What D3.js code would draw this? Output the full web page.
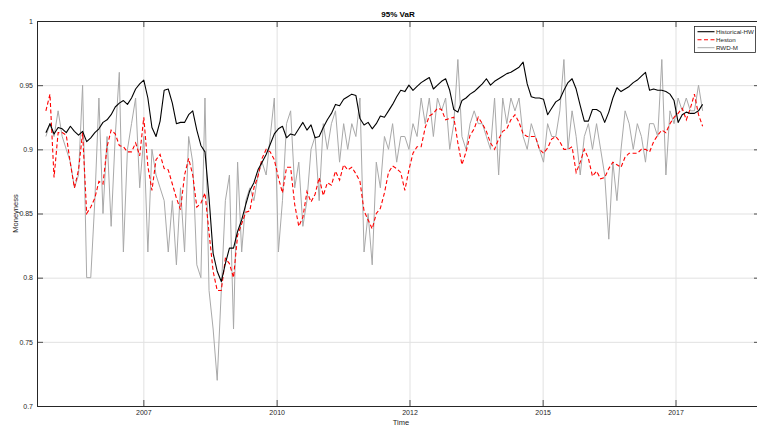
<!DOCTYPE html>
<html>
<head>
<meta charset="utf-8">
<script src="https://cdn.jsdelivr.net/npm/d3@7"></script>
<style>
  html, body { margin: 0; padding: 0; background: #ffffff; overflow: hidden; }
  svg { display: block; font-family: "Liberation Sans", Arial, Helvetica, sans-serif; }
</style>
</head>
<body>
<svg id="chart" width="757" height="428"></svg>
<script>
// Observation grid: one value every 28 days from the first date
const firstDate = "2005-08-31";
const stepDays = 28;

// Historical-HW moneyness
const historicalHW = [
  0.913, 0.920, 0.912, 0.917, 0.916, 0.913, 0.918, 0.914, 0.911, 0.914,
  0.906, 0.909, 0.913, 0.916, 0.921, 0.923, 0.927, 0.933, 0.936, 0.938,
  0.935, 0.940, 0.947, 0.951, 0.954, 0.940, 0.917, 0.910, 0.922, 0.946,
  0.947, 0.936, 0.920, 0.921, 0.921, 0.927, 0.930, 0.915, 0.903, 0.898,
  0.862, 0.819, 0.805, 0.797, 0.811, 0.823, 0.823, 0.836, 0.845, 0.857,
  0.868, 0.874, 0.884, 0.890, 0.896, 0.904, 0.912, 0.916, 0.918, 0.909,
  0.912, 0.911, 0.916, 0.921, 0.915, 0.919, 0.909, 0.910, 0.917, 0.923,
  0.928, 0.935, 0.934, 0.939, 0.941, 0.943, 0.942, 0.924, 0.919, 0.921,
  0.916, 0.920, 0.926, 0.925, 0.930, 0.935, 0.941, 0.946, 0.945, 0.950,
  0.946, 0.949, 0.952, 0.954, 0.956, 0.947, 0.950, 0.953, 0.955, 0.946,
  0.931, 0.929, 0.938, 0.940, 0.943, 0.945, 0.948, 0.951, 0.955, 0.950,
  0.953, 0.955, 0.957, 0.959, 0.960, 0.962, 0.964, 0.968, 0.951, 0.941,
  0.940, 0.940, 0.939, 0.927, 0.932, 0.937, 0.939, 0.946, 0.952, 0.955,
  0.947, 0.934, 0.922, 0.922, 0.931, 0.931, 0.929, 0.921, 0.929, 0.940,
  0.948, 0.945, 0.947, 0.949, 0.952, 0.954, 0.957, 0.960, 0.946, 0.947,
  0.946, 0.946, 0.945, 0.943, 0.938, 0.921, 0.927, 0.929, 0.928, 0.928,
  0.930, 0.935
];

// Heston moneyness
const heston = [
  0.930, 0.943, 0.878, 0.913, 0.913, 0.911, 0.889, 0.870, 0.884, 0.913,
  0.850, 0.855, 0.862, 0.875, 0.873, 0.902, 0.915, 0.912, 0.903, 0.902,
  0.898, 0.898, 0.905, 0.895, 0.925, 0.887, 0.868, 0.892, 0.896, 0.885,
  0.884, 0.873, 0.862, 0.853, 0.880, 0.893, 0.880, 0.855, 0.858, 0.866,
  0.835, 0.805, 0.790, 0.790, 0.815, 0.811, 0.800, 0.833, 0.842, 0.851,
  0.852, 0.870, 0.879, 0.893, 0.900, 0.898, 0.892, 0.878, 0.866, 0.886,
  0.886, 0.857, 0.840, 0.847, 0.867, 0.859, 0.865, 0.878, 0.864, 0.874,
  0.872, 0.883, 0.876, 0.888, 0.884, 0.886, 0.881, 0.875, 0.852, 0.845,
  0.838, 0.850, 0.854, 0.866, 0.882, 0.887, 0.885, 0.882, 0.868, 0.884,
  0.897, 0.902, 0.902, 0.917, 0.926, 0.928, 0.932, 0.931, 0.923, 0.924,
  0.925, 0.905, 0.888, 0.898, 0.911, 0.916, 0.925, 0.920, 0.914, 0.905,
  0.900, 0.908, 0.914, 0.916, 0.923, 0.927, 0.921, 0.912, 0.910, 0.910,
  0.910, 0.900, 0.897, 0.901, 0.908, 0.910, 0.906, 0.900, 0.900, 0.902,
  0.882, 0.890, 0.900, 0.893, 0.879, 0.883, 0.877, 0.878, 0.885, 0.890,
  0.888, 0.886, 0.894, 0.897, 0.897, 0.897, 0.900, 0.900, 0.898, 0.906,
  0.911, 0.915, 0.913, 0.920, 0.925, 0.928, 0.932, 0.923, 0.932, 0.943,
  0.927, 0.918
];

// RWD-M moneyness
const rwdM = [
  0.91, 0.92, 0.91, 0.93, 0.91, 0.90, 0.89, 0.87, 0.88, 0.95,
  0.80, 0.80, 0.86, 0.94, 0.85, 0.91, 0.84, 0.91, 0.96, 0.82,
  0.90, 0.92, 0.94, 0.87, 0.91, 0.82, 0.90, 0.88, 0.87, 0.86,
  0.82, 0.86, 0.81, 0.87, 0.82, 0.91, 0.89, 0.81, 0.80, 0.94,
  0.79, 0.76, 0.72, 0.79, 0.86, 0.88, 0.76, 0.89, 0.82, 0.86,
  0.87, 0.86, 0.88, 0.89, 0.88, 0.91, 0.94, 0.82, 0.86, 0.92,
  0.93, 0.87, 0.89, 0.84, 0.86, 0.90, 0.91, 0.86, 0.92, 0.90,
  0.92, 0.93, 0.89, 0.92, 0.90, 0.92, 0.91, 0.94, 0.82, 0.85,
  0.81, 0.89, 0.87, 0.91, 0.90, 0.92, 0.89, 0.91, 0.91, 0.90,
  0.92, 0.91, 0.94, 0.92, 0.94, 0.91, 0.94, 0.93, 0.94, 0.90,
  0.92, 0.97, 0.91, 0.90, 0.92, 0.93, 0.92, 0.92, 0.91, 0.90,
  0.94, 0.88, 0.94, 0.92, 0.94, 0.93, 0.94, 0.91, 0.90, 0.92,
  0.91, 0.90, 0.89, 0.92, 0.91, 0.91, 0.93, 0.97, 0.90, 0.93,
  0.91, 0.88, 0.91, 0.92, 0.90, 0.92, 0.90, 0.88, 0.83, 0.89,
  0.86, 0.90, 0.93, 0.92, 0.90, 0.92, 0.91, 0.89, 0.92, 0.92,
  0.91, 0.97, 0.88, 0.93, 0.92, 0.94, 0.93, 0.94, 0.93, 0.93,
  0.95, 0.93
];

const seriesNames = ["Historical-HW", "Heston", "RWD-M"];
const yTickValues = [0.7, 0.75, 0.8, 0.85, 0.9, 0.95, 1];
const yTickLabels = ["0.7", "0.75", "0.8", "0.85", "0.9", "0.95", "1"];
const xTickDates = ["2007-07-01", "2010-01-01", "2012-07-01", "2015-01-01", "2017-07-01"];
const xDomain = ["2005-07-01", "2019-02-01"];

const parse = d3.utcParse("%Y-%m-%d");
const start = parse(firstDate);
const dates = historicalHW.map((_, i) => d3.utcDay.offset(start, i * stepDays));

const svg = d3.select("#chart");
const plot = { left: 37, right: 760, top: 21, bottom: 406 };
const axisColor = "#262626";

const x = d3.scaleUtc().domain(xDomain.map(parse)).range([plot.left, plot.right]);
const y = d3.scaleLinear().domain([0.7, 1]).range([plot.bottom, plot.top]);
const xTicks = xTickDates.map(parse);

// Grid
const grid = svg.append("g").attr("class", "grid");
grid.append("g")
  .attr("transform", `translate(0,${plot.bottom})`)
  .call(d3.axisBottom(x).tickValues(xTicks).tickSize(-(plot.bottom - plot.top)).tickFormat(""))
  .call(g => g.select(".domain").remove())
  .call(g => g.selectAll("line").attr("stroke", "#e1e1e1").attr("stroke-width", 1));
grid.append("g")
  .attr("transform", `translate(${plot.left},0)`)
  .call(d3.axisLeft(y).tickValues(yTickValues).tickSize(-(plot.right - plot.left)).tickFormat(""))
  .call(g => g.select(".domain").remove())
  .call(g => g.selectAll("line").attr("stroke", "#e1e1e1").attr("stroke-width", 1));

// Series lines
const line = vals => d3.line()
  .x((d, i) => x(dates[i]))
  .y(d => y(d))(vals);

const lines = svg.append("g").attr("class", "series");
lines.append("path").attr("d", line(rwdM))
  .attr("fill", "none").attr("stroke", "#a9a9a9").attr("stroke-width", 1)
  .attr("stroke-linejoin", "round");
lines.append("path").attr("d", line(heston))
  .attr("fill", "none").attr("stroke", "#ff0000").attr("stroke-width", 1.1)
  .attr("stroke-dasharray", "4,2.5");
lines.append("path").attr("d", line(historicalHW))
  .attr("fill", "none").attr("stroke", "#000000").attr("stroke-width", 1.1)
  .attr("stroke-linejoin", "round");

// Axes (box with inward ticks)
const styleAxis = g => {
  g.select(".domain").attr("stroke", axisColor).attr("stroke-width", 1);
  g.selectAll(".tick line").attr("stroke", axisColor).attr("stroke-width", 0.8);
  g.selectAll("text").attr("fill", axisColor).attr("font-size", 7)
    .attr("font-family", "'Liberation Sans', Arial, sans-serif");
};

svg.append("g")
  .attr("transform", `translate(0,${plot.bottom})`)
  .call(d3.axisBottom(x).tickValues(xTicks).tickFormat(d3.utcFormat("%Y"))
    .tickSizeInner(-6).tickSizeOuter(0).tickPadding(4))
  .call(styleAxis);
svg.append("g")
  .attr("transform", `translate(0,${plot.top})`)
  .call(d3.axisTop(x).tickValues(xTicks).tickFormat("").tickSizeInner(-6).tickSizeOuter(0))
  .call(styleAxis);
svg.append("g")
  .attr("transform", `translate(${plot.left},0)`)
  .call(d3.axisLeft(y).tickValues(yTickValues).tickFormat((d, i) => yTickLabels[i])
    .tickSizeInner(-6).tickSizeOuter(0).tickPadding(4))
  .call(styleAxis);
svg.append("g")
  .attr("transform", `translate(${plot.right},0)`)
  .call(d3.axisRight(y).tickValues(yTickValues).tickFormat("").tickSizeInner(-6).tickSizeOuter(0))
  .call(styleAxis);

// Title and axis labels
svg.append("text").attr("x", 398).attr("y", 17).attr("text-anchor", "middle")
  .attr("font-size", 8).attr("font-weight", "bold").attr("fill", "#000")
  .text("95% VaR");
svg.append("text").attr("x", 401).attr("y", 425).attr("text-anchor", "middle")
  .attr("font-size", 7.5).attr("fill", axisColor).text("Time");
svg.append("text").attr("transform", `translate(18,${(plot.top + plot.bottom) / 2}) rotate(-90)`)
  .attr("text-anchor", "middle").attr("font-size", 7.5).attr("fill", axisColor)
  .text("Moneyness");

// Legend
const legend = svg.append("g").attr("transform", "translate(694.5,26.5)");
legend.append("rect").attr("width", 61).attr("height", 26)
  .attr("fill", "#fff").attr("stroke", axisColor).attr("stroke-width", 0.8);
const legendStyles = [
  { stroke: "#000000", dash: null, width: 1.1 },
  { stroke: "#ff0000", dash: "4,2.5", width: 1.1 },
  { stroke: "#a9a9a9", dash: null, width: 1 }
];
seriesNames.forEach((name, i) => {
  const yy = 5.2 + i * 8;
  legend.append("line").attr("x1", 3).attr("x2", 20).attr("y1", yy).attr("y2", yy)
    .attr("stroke", legendStyles[i].stroke).attr("stroke-width", legendStyles[i].width)
    .attr("stroke-dasharray", legendStyles[i].dash);
  legend.append("text").attr("x", 21.5).attr("y", yy).attr("dy", "0.35em")
    .attr("font-size", 6.2).attr("fill", axisColor).text(name);
});
</script>
</body>
</html>
